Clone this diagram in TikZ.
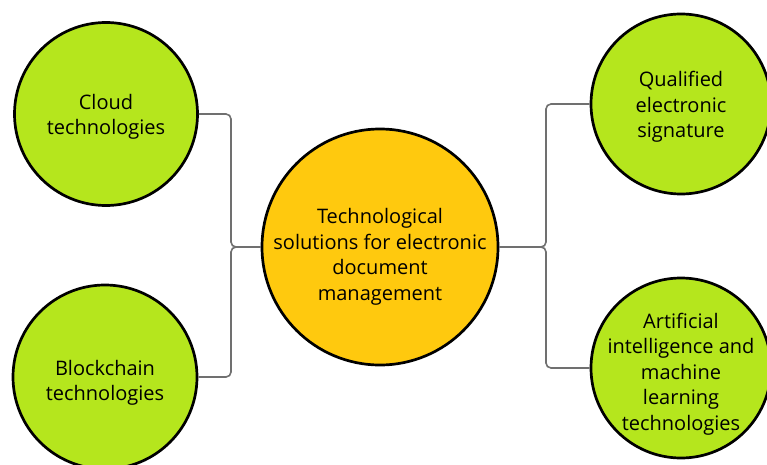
\documentclass[tikz,border=0pt]{standalone}
\usepackage{fontspec}
\setmainfont{Open Sans}
\definecolor{lime}{RGB}{181,230,29}
\definecolor{gold}{RGB}{255,201,14}
\definecolor{conn}{RGB}{112,112,112}
\newcommand{\lowtext}[2]{\makebox[0pt]{\raisebox{0pt}[\dimexpr\height+#1\relax][\depth]{\begin{tabular}{@{}c@{}}#2\end{tabular}}}}
\begin{document}
\begin{tikzpicture}[x=1pt,y=-1pt,
  bubble/.style={circle,draw=black,line width=2.7pt,fill=lime,inner sep=0pt,
    align=center,font=\fontsize{20}{25.5}\selectfont},
  link/.style={draw=conn,line width=1.6pt,rounded corners=5pt}]
\clip (0,0) rectangle (767,465);
\fill[white] (0,0) rectangle (767,465);
\node[bubble,minimum size=183pt] (cloud) at (106,114) {\lowtext{6pt}{Cloud\\technologies}};
\node[bubble,minimum size=184pt] (block) at (105,377) {\lowtext{12pt}{Blockchain\\technologies}};
\node[bubble,fill=gold,minimum size=236pt] (core) at (380,247) {\lowtext{20pt}{Technological\\solutions for electronic\\document\\management}};
\node[bubble,minimum size=180pt] (qual) at (681,104) {\lowtext{6pt}{Qualified\\electronic\\signature}};
\node[bubble,minimum size=180pt] (ai) at (681,368) {\lowtext{12pt}{Artificial\\intelligence and\\machine\\learning\\technologies}};
\coordinate (jl) at (231,247);
\coordinate (jr) at (546,247);
\draw[link] (cloud.east) -| (jl) -- (core.west);
\draw[link] (block.east) -| (jl) -- (core.west);
\draw[link] (core.east) -- (jr) |- (qual.west);
\draw[link] (core.east) -- (jr) |- (ai.west);
\end{tikzpicture}
\end{document}
